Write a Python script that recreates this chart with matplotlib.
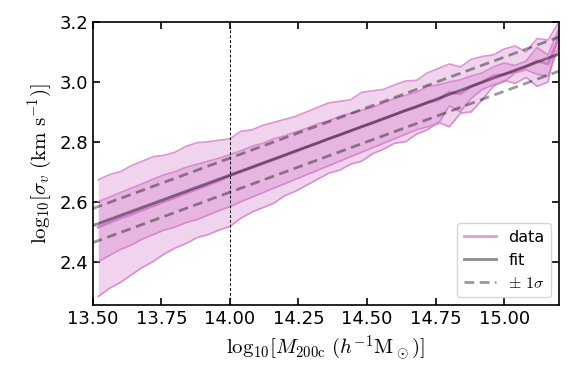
#Velocity dispersion vs halo mass
import numpy as np
import matplotlib.pyplot as plt

plt.rcParams['mathtext.fontset'] = 'cm'

# binned data (log10 M200c)
logm = [13.52, 13.56, 13.60, 13.64, 13.68, 13.72, 13.76, 13.80, 13.84, 13.88,
        13.92, 13.96, 14.00, 14.04, 14.08, 14.12, 14.16, 14.20, 14.24, 14.28,
        14.32, 14.36, 14.40, 14.44, 14.48, 14.52, 14.56, 14.60, 14.64, 14.68,
        14.72, 14.76, 14.80, 14.84, 14.88, 14.92, 14.96, 15.00, 15.04, 15.08,
        15.12, 15.16, 15.20]
median = [2.515, 2.530, 2.545, 2.558, 2.572, 2.586, 2.600, 2.614, 2.628, 2.642,
          2.656, 2.670, 2.686, 2.700, 2.713, 2.727, 2.740, 2.754, 2.768, 2.782,
          2.795, 2.810, 2.822, 2.836, 2.850, 2.862, 2.876, 2.890, 2.905, 2.915,
          2.930, 2.940, 2.965, 2.960, 2.985, 3.000, 3.020, 3.025, 3.035, 3.050,
          3.070, 3.060, 3.150]
lo1 = [2.400, 2.420, 2.440, 2.455, 2.475, 2.490, 2.505, 2.515, 2.530, 2.540,
       2.555, 2.570, 2.583, 2.600, 2.615, 2.630, 2.645, 2.660, 2.675, 2.690,
       2.705, 2.720, 2.735, 2.750, 2.765, 2.780, 2.795, 2.810, 2.825, 2.840,
       2.850, 2.860, 2.920, 2.900, 2.945, 2.975, 2.990, 3.000, 3.030, 3.040,
       3.025, 3.020, 3.120]
hi1 = [2.600, 2.615, 2.630, 2.645, 2.660, 2.675, 2.690, 2.700, 2.715, 2.725,
       2.735, 2.745, 2.757, 2.770, 2.785, 2.795, 2.810, 2.820, 2.833, 2.845,
       2.860, 2.870, 2.885, 2.895, 2.905, 2.915, 2.930, 2.945, 2.955, 2.965,
       2.985, 2.990, 3.000, 3.007, 3.020, 3.030, 3.050, 3.063, 3.055, 3.070,
       3.115, 3.090, 3.180]
lo2 = [2.283, 2.310, 2.330, 2.355, 2.380, 2.400, 2.425, 2.445, 2.460, 2.480,
       2.490, 2.505, 2.517, 2.545, 2.565, 2.580, 2.595, 2.620, 2.635, 2.655,
       2.675, 2.695, 2.705, 2.725, 2.735, 2.760, 2.775, 2.795, 2.800, 2.825,
       2.840, 2.865, 2.850, 2.895, 2.900, 2.940, 2.985, 3.005, 2.995, 3.015,
       2.985, 3.000, 3.170]
hi2 = [2.673, 2.690, 2.700, 2.720, 2.735, 2.750, 2.755, 2.765, 2.785, 2.797,
       2.800, 2.805, 2.810, 2.835, 2.840, 2.855, 2.865, 2.875, 2.885, 2.900,
       2.915, 2.930, 2.935, 2.940, 2.965, 2.970, 2.975, 2.990, 3.003, 3.005,
       3.030, 3.045, 3.060, 3.050, 3.075, 3.085, 3.090, 3.110, 3.120, 3.100,
       3.145, 3.140, 3.200]

# linear fit end points and scatter
fit_x = [13.5, 15.2]
fit_y = [2.52, 3.093]
sigma = 0.057

pink = '#d47ccb'

fig, ax = plt.subplots(figsize=(5.73, 3.86), dpi=100)
fig.subplots_adjust(left=0.162, right=0.9756, bottom=0.21, top=0.943)

ax.fill_between(logm, lo2, hi2, color=pink, alpha=0.33, lw=0)
ax.fill_between(logm, lo1, hi1, color=pink, alpha=0.33, lw=0)
for b in [lo2, hi2, lo1, hi1]:
    ax.plot(logm, b, color=pink, alpha=0.8, lw=1.2)
ax.plot(logm, median, color=pink, lw=2, label="data")

fy = np.array(fit_y)
ax.plot(fit_x, fy, color='k', alpha=0.45, lw=2, label="fit")
ax.plot(fit_x, fy + sigma, color='k', alpha=0.4, lw=2, ls=(0, (3.5, 2)), label=r"$\pm\ 1\sigma$")
ax.plot(fit_x, fy - sigma, color='k', alpha=0.4, lw=2, ls=(0, (3.5, 2)))

ax.axvline(14.0, color='k', lw=0.7, ls=(0, (3, 2)))

ax.set_xlim(13.5, 15.2)
ax.set_ylim(2.255, 3.2)
ax.set_xticks([13.5, 13.75, 14.0, 14.25, 14.5, 14.75, 15.0])
ax.set_xticklabels(["13.50", "13.75", "14.00", "14.25", "14.50", "14.75", "15.00"])
ax.set_yticks([2.4, 2.6, 2.8, 3.0, 3.2])
ax.tick_params(direction='in', top=True, right=True, labelsize=13, length=5, width=1.2)
for s in ax.spines.values():
    s.set_linewidth(1.2)

ax.set_xlabel(r"$\mathrm{log}_{10}[M_{200\mathrm{c}}\ (h^{-1}\mathrm{M}_\odot)]$", fontsize=15)
ax.set_ylabel(r"$\mathrm{log}_{10}[\sigma_v\ (\mathrm{km\ s^{-1}})]$", fontsize=15)

leg = ax.legend(loc='lower right', fontsize=11.5)
leg.legend_handles[0].set_alpha(0.75)

plt.savefig("out.png", dpi=100)
